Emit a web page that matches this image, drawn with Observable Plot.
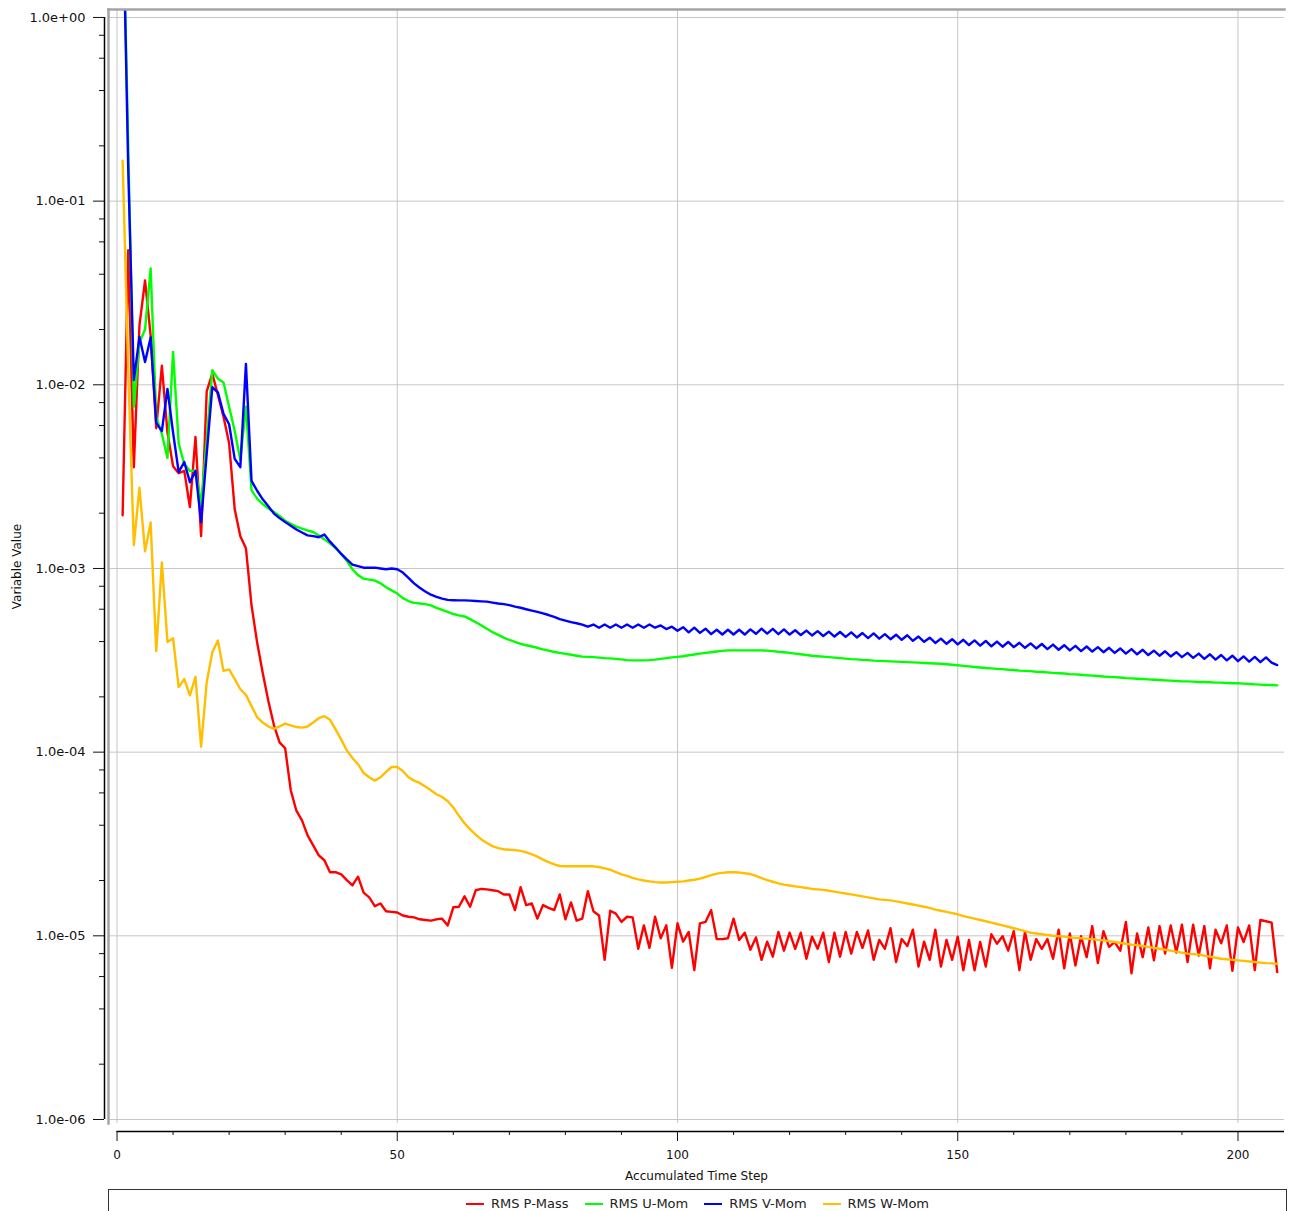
<!DOCTYPE html>
<html><head><meta charset="utf-8">
<script src="https://cdn.jsdelivr.net/npm/d3@7"></script>
<script src="https://cdn.jsdelivr.net/npm/@observablehq/plot@0.6"></script>
<style>
html,body{margin:0;padding:0;background:#fff;}
#wrap{position:relative;width:1293px;height:1211px;overflow:hidden;font-family:"DejaVu Sans",sans-serif;}
#legend{position:absolute;left:108px;top:1189px;width:1179px;height:40px;border:1px solid #333;box-sizing:border-box;}
.items{display:flex;justify-content:center;gap:16px;margin-top:6px;font-size:13px;color:#222;line-height:15px;}
.item{display:flex;align-items:center;gap:7px;}
.sw{width:18px;height:2px;display:inline-block;}
</style></head><body><div id="wrap"><div id="chart"></div><div id="legend"><div class="items" id="items"></div></div></div>
<script>
// Accumulated time steps 1..207
const steps = d3.range(1, 208);

const seriesNames = ["RMS P-Mass", "RMS U-Mom", "RMS V-Mom", "RMS W-Mom"];
const seriesColors = ["#ff0000", "#00ff00", "#0000ff", "#ffbf00"];

const pMass = [
1.95e-3,0.054,3.56e-3,0.021,0.037,0.0185,5.8e-3,0.0127,5.5e-3,3.6e-3,
3.3e-3,3.4e-3,2.16e-3,5.2e-3,1.5e-3,9.2e-3,0.0115,8.8e-3,6.7e-3,4.8e-3,
2.1e-3,1.5e-3,1.29e-3,6.3e-4,3.95e-4,2.7e-4,1.9e-4,1.4e-4,1.13e-4,1.05e-4,
6.2e-5,4.8e-5,4.25e-5,3.52e-5,3.11e-5,2.74e-5,2.58e-5,2.22e-5,2.22e-5,2.16e-5,
2.01e-5,1.88e-5,2.1e-5,1.72e-5,1.62e-5,1.45e-5,1.5e-5,1.36e-5,1.35e-5,1.34e-5,
1.29e-5,1.27e-5,1.26e-5,1.23e-5,1.22e-5,1.21e-5,1.23e-5,1.24e-5,1.14e-5,1.43e-5,
1.44e-5,1.64e-5,1.44e-5,1.77e-5,1.8e-5,1.79e-5,1.77e-5,1.75e-5,1.68e-5,1.68e-5,
1.38e-5,1.84e-5,1.47e-5,1.5e-5,1.24e-5,1.47e-5,1.42e-5,1.38e-5,1.68e-5,1.23e-5,
1.52e-5,1.21e-5,1.24e-5,1.75e-5,1.36e-5,1.29e-5,7.4e-6,1.37e-5,1.32e-5,1.19e-5,
1.27e-5,1.26e-5,8.5e-6,1.14e-5,8.6e-6,1.27e-5,9.7e-6,1.14e-5,6.7e-6,1.17e-5,
9.3e-6,1.05e-5,6.5e-6,1.17e-5,1.19e-5,1.38e-5,9.6e-6,9.6e-6,9.7e-6,1.24e-5,
9.5e-6,1.04e-5,8.4e-6,9.8e-6,7.4e-6,9.3e-6,7.7e-6,1.05e-5,8.3e-6,1.04e-5,
8.5e-6,1.04e-5,7.5e-6,9.9e-6,8.5e-6,1.04e-5,7.2e-6,1.04e-5,7.7e-6,1.05e-5,
8.0e-6,1.05e-5,8.6e-6,1.07e-5,7.4e-6,9.5e-6,8.5e-6,1.1e-5,7.2e-6,9.6e-6,
8.8e-6,1.08e-5,6.8e-6,9.3e-6,7.4e-6,1.08e-5,6.8e-6,9.5e-6,7.4e-6,9.9e-6,
6.5e-6,9.5e-6,6.5e-6,9.25e-6,6.8e-6,1.02e-5,9.06e-6,9.95e-6,8.3e-6,1.06e-5,
6.5e-6,1.05e-5,7.4e-6,9.6e-6,8.5e-6,9.6e-6,7.5e-6,1.08e-5,6.65e-6,1.03e-5,
6.9e-6,9.95e-6,7.65e-6,1.13e-5,7.1e-6,1.06e-5,8.7e-6,9.25e-6,8.3e-6,1.19e-5,
6.25e-6,1.03e-5,7.65e-6,1.11e-5,7.35e-6,1.13e-5,8.0e-6,1.14e-5,8.1e-6,1.15e-5,
7.2e-6,1.15e-5,7.8e-6,1.13e-5,6.65e-6,1.08e-5,9.1e-6,1.14e-5,6.45e-6,1.11e-5,
9.25e-6,1.14e-5,6.5e-6,1.22e-5,1.2e-5,1.18e-5,6.35e-6
];

const uMom = [
5,0.2,7.6e-3,0.017,0.02,0.043,6.7e-3,5.4e-3,4.0e-3,0.0151,
4.8e-3,3.7e-3,3.4e-3,3.4e-3,2.25e-3,5.0e-3,0.012,0.0108,0.0103,7.6e-3,
5.6e-3,3.9e-3,7.6e-3,2.66e-3,2.4e-3,2.24e-3,2.12e-3,2.03e-3,1.93e-3,1.82e-3,
1.75e-3,1.69e-3,1.65e-3,1.61e-3,1.58e-3,1.51e-3,1.44e-3,1.37e-3,1.29e-3,1.2e-3,
1.1e-3,9.9e-4,9.2e-4,8.8e-4,8.7e-4,8.6e-4,8.3e-4,7.9e-4,7.6e-4,7.3e-4,
6.9e-4,6.65e-4,6.5e-4,6.45e-4,6.4e-4,6.3e-4,6.1e-4,5.95e-4,5.8e-4,5.65e-4,
5.55e-4,5.48e-4,5.3e-4,5.1e-4,4.9e-4,4.7e-4,4.5e-4,4.35e-4,4.2e-4,4.08e-4,
3.98e-4,3.89e-4,3.82e-4,3.76e-4,3.7e-4,3.63e-4,3.57e-4,3.51e-4,3.47e-4,3.43e-4,
3.39e-4,3.35e-4,3.31e-4,3.3e-4,3.29e-4,3.27e-4,3.25e-4,3.24e-4,3.22e-4,3.2e-4,
3.17e-4,3.16e-4,3.16e-4,3.16e-4,3.17e-4,3.19e-4,3.22e-4,3.25e-4,3.28e-4,3.3e-4,
3.33e-4,3.37e-4,3.4e-4,3.44e-4,3.47e-4,3.5e-4,3.53e-4,3.56e-4,3.58e-4,3.58e-4,
3.58e-4,3.58e-4,3.58e-4,3.58e-4,3.58e-4,3.57e-4,3.55e-4,3.52e-4,3.5e-4,3.47e-4,
3.44e-4,3.41e-4,3.38e-4,3.35e-4,3.33e-4,3.31e-4,3.29e-4,3.27e-4,3.25e-4,3.23e-4,
3.21e-4,3.2e-4,3.18e-4,3.17e-4,3.15e-4,3.14e-4,3.13e-4,3.12e-4,3.11e-4,3.1e-4,
3.09e-4,3.08e-4,3.07e-4,3.06e-4,3.05e-4,3.04e-4,3.03e-4,3.01e-4,2.99e-4,2.97e-4,
2.95e-4,2.93e-4,2.91e-4,2.89e-4,2.87e-4,2.86e-4,2.84e-4,2.83e-4,2.81e-4,2.8e-4,
2.78e-4,2.77e-4,2.76e-4,2.74e-4,2.73e-4,2.72e-4,2.7e-4,2.69e-4,2.68e-4,2.66e-4,
2.65e-4,2.64e-4,2.62e-4,2.61e-4,2.6e-4,2.58e-4,2.57e-4,2.56e-4,2.55e-4,2.53e-4,
2.52e-4,2.51e-4,2.5e-4,2.49e-4,2.48e-4,2.47e-4,2.46e-4,2.45e-4,2.44e-4,2.43e-4,
2.43e-4,2.42e-4,2.41e-4,2.41e-4,2.4e-4,2.39e-4,2.39e-4,2.38e-4,2.37e-4,2.37e-4,
2.36e-4,2.35e-4,2.34e-4,2.33e-4,2.32e-4,2.32e-4,2.31e-4
];

const vMom = [
5,0.15,0.0106,0.0182,0.0133,0.0181,6.2e-3,5.6e-3,9.5e-3,5.5e-3,
3.35e-3,3.8e-3,2.95e-3,3.4e-3,1.79e-3,4.2e-3,9.7e-3,9.1e-3,6.95e-3,6.1e-3,
3.95e-3,3.56e-3,0.013,3.0e-3,2.65e-3,2.38e-3,2.18e-3,1.99e-3,1.88e-3,1.79e-3,
1.71e-3,1.63e-3,1.57e-3,1.515e-3,1.5e-3,1.48e-3,1.53e-3,1.4e-3,1.3e-3,1.2e-3,
1.12e-3,1.05e-3,1.03e-3,1.01e-3,1.01e-3,1.01e-3,1.0e-3,9.9e-4,1.0e-3,9.9e-4,
9.5e-4,8.9e-4,8.3e-4,7.85e-4,7.5e-4,7.2e-4,7.0e-4,6.85e-4,6.75e-4,6.72e-4,
6.7e-4,6.7e-4,6.68e-4,6.65e-4,6.62e-4,6.6e-4,6.52e-4,6.45e-4,6.4e-4,6.32e-4,
6.2e-4,6.11e-4,6.0e-4,5.9e-4,5.8e-4,5.7e-4,5.58e-4,5.45e-4,5.3e-4,5.2e-4,
5.1e-4,5.03e-4,4.95e-4,4.82e-4,4.95e-4,4.76e-4,4.95e-4,4.76e-4,4.95e-4,4.76e-4,
4.95e-4,4.76e-4,4.95e-4,4.76e-4,4.95e-4,4.76e-4,4.9e-4,4.68e-4,4.82e-4,4.58e-4,
4.79e-4,4.49e-4,4.76e-4,4.46e-4,4.7e-4,4.39e-4,4.64e-4,4.37e-4,4.64e-4,4.37e-4,
4.64e-4,4.37e-4,4.66e-4,4.41e-4,4.7e-4,4.42e-4,4.69e-4,4.39e-4,4.66e-4,4.37e-4,
4.61e-4,4.34e-4,4.59e-4,4.32e-4,4.56e-4,4.29e-4,4.53e-4,4.26e-4,4.51e-4,4.24e-4,
4.49e-4,4.21e-4,4.45e-4,4.18e-4,4.43e-4,4.15e-4,4.39e-4,4.12e-4,4.36e-4,4.09e-4,
4.33e-4,4.04e-4,4.26e-4,3.99e-4,4.2e-4,3.93e-4,4.15e-4,3.89e-4,4.12e-4,3.86e-4,
4.09e-4,3.83e-4,4.06e-4,3.8e-4,4.03e-4,3.77e-4,4.0e-4,3.75e-4,3.98e-4,3.73e-4,
3.94e-4,3.7e-4,3.91e-4,3.67e-4,3.88e-4,3.64e-4,3.85e-4,3.61e-4,3.82e-4,3.58e-4,
3.79e-4,3.55e-4,3.76e-4,3.53e-4,3.73e-4,3.5e-4,3.7e-4,3.47e-4,3.67e-4,3.44e-4,
3.64e-4,3.41e-4,3.61e-4,3.38e-4,3.57e-4,3.35e-4,3.54e-4,3.32e-4,3.5e-4,3.29e-4,
3.47e-4,3.26e-4,3.44e-4,3.22e-4,3.41e-4,3.19e-4,3.38e-4,3.16e-4,3.35e-4,3.13e-4,
3.32e-4,3.11e-4,3.3e-4,3.09e-4,3.28e-4,3.07e-4,2.98e-4
];

const wMom = [
0.166,0.012,1.34e-3,2.75e-3,1.24e-3,1.78e-3,3.55e-4,1.08e-3,3.98e-4,4.17e-4,
2.26e-4,2.5e-4,2.04e-4,2.57e-4,1.07e-4,2.4e-4,3.5e-4,4.05e-4,2.77e-4,2.82e-4,
2.5e-4,2.2e-4,2.05e-4,1.78e-4,1.55e-4,1.45e-4,1.38e-4,1.34e-4,1.38e-4,1.43e-4,
1.4e-4,1.37e-4,1.36e-4,1.38e-4,1.45e-4,1.53e-4,1.57e-4,1.5e-4,1.33e-4,1.17e-4,
1.02e-4,9.3e-5,8.6e-5,7.7e-5,7.3e-5,7.0e-5,7.3e-5,7.8e-5,8.3e-5,8.3e-5,
7.9e-5,7.3e-5,7.0e-5,6.8e-5,6.5e-5,6.2e-5,5.9e-5,5.7e-5,5.4e-5,5.0e-5,
4.5e-5,4.1e-5,3.8e-5,3.55e-5,3.35e-5,3.2e-5,3.08e-5,3.0e-5,2.96e-5,2.94e-5,
2.93e-5,2.9e-5,2.85e-5,2.78e-5,2.7e-5,2.6e-5,2.52e-5,2.45e-5,2.4e-5,2.39e-5,
2.39e-5,2.39e-5,2.39e-5,2.39e-5,2.39e-5,2.37e-5,2.33e-5,2.29e-5,2.22e-5,2.16e-5,
2.12e-5,2.07e-5,2.03e-5,2.0e-5,1.98e-5,1.96e-5,1.95e-5,1.95e-5,1.96e-5,1.97e-5,
1.98e-5,2.0e-5,2.02e-5,2.05e-5,2.09e-5,2.14e-5,2.18e-5,2.2e-5,2.22e-5,2.22e-5,
2.21e-5,2.19e-5,2.17e-5,2.12e-5,2.06e-5,2.01e-5,1.97e-5,1.93e-5,1.9e-5,1.88e-5,
1.86e-5,1.84e-5,1.82e-5,1.8e-5,1.79e-5,1.78e-5,1.76e-5,1.74e-5,1.72e-5,1.7e-5,
1.68e-5,1.66e-5,1.64e-5,1.62e-5,1.6e-5,1.58e-5,1.57e-5,1.56e-5,1.54e-5,1.52e-5,
1.5e-5,1.48e-5,1.46e-5,1.44e-5,1.42e-5,1.39e-5,1.37e-5,1.35e-5,1.33e-5,1.31e-5,
1.28e-5,1.26e-5,1.24e-5,1.22e-5,1.2e-5,1.18e-5,1.16e-5,1.14e-5,1.12e-5,1.1e-5,
1.08e-5,1.06e-5,1.04e-5,1.03e-5,1.02e-5,1.01e-5,1.0e-5,9.95e-6,9.9e-6,9.8e-6,
9.75e-6,9.7e-6,9.65e-6,9.6e-6,9.5e-6,9.45e-6,9.35e-6,9.25e-6,9.15e-6,9.05e-6,
8.95e-6,8.9e-6,8.8e-6,8.7e-6,8.6e-6,8.5e-6,8.4e-6,8.3e-6,8.2e-6,8.1e-6,
8.0e-6,7.95e-6,7.9e-6,7.8e-6,7.7e-6,7.6e-6,7.5e-6,7.45e-6,7.4e-6,7.35e-6,
7.3e-6,7.25e-6,7.2e-6,7.15e-6,7.1e-6,7.08e-6,7.05e-6
];

const yMajorTicks = [1, 1e-1, 1e-2, 1e-3, 1e-4, 1e-5, 1e-6];
const yMinorTicks = [0.8,0.6,0.4,0.2, 0.08,0.06,0.04,0.02, 8e-3,6e-3,4e-3,2e-3,
  8e-4,6e-4,4e-4,2e-4, 8e-5,6e-5,4e-5,2e-5, 8e-6,6e-6,4e-6,2e-6];
const xMajorTicks = [0, 50, 100, 150, 200];
const xMinorTicks = [10,20,30,40,60,70,80,90,110,120,130,140,160,170,180,190];

const xDomain = [-1.52, 208.3];
const yDomain = [9.51e-7, 1.105];

const seriesValues = [pMass, uMom, vMom, wMom];
const series = seriesNames.map((name, k) => ({name, color: seriesColors[k], values: seriesValues[k]}));

const fmtExp = d => {
  const e = Math.round(Math.log10(d));
  return "1.0e" + (e < 0 ? "-" : "+") + String(Math.abs(e)).padStart(2, "0");
};

const lineMarks = series.map(s => Plot.lineY(s.values, {
  x: (d, i) => steps[i], y: d => d, stroke: s.color, strokeWidth: 2.4, clip: true
}));

const chart = Plot.plot({
  width: 1293, height: 1189,
  marginLeft: 108, marginRight: 9, marginTop: 9, marginBottom: 66,
  style: {fontFamily: "'DejaVu Sans', sans-serif", background: "white", color: "#111", overflow: "visible"},
  x: {domain: xDomain},
  y: {type: "log", domain: yDomain},
  marks: [
    Plot.gridY(yMajorTicks, {stroke: "#c6c6c6", strokeOpacity: 1}),
    Plot.gridX(xMajorTicks, {stroke: "#c6c6c6", strokeOpacity: 1}),
    ...lineMarks,
    Plot.frame({anchor: "top", stroke: "#a4a4a4", strokeWidth: 2.5}),
    Plot.frame({anchor: "left", stroke: "#a4a4a4", strokeWidth: 2.5}),
    Plot.ruleX([xDomain[0]], {y1: 1e-6, y2: 1, dx: -4, stroke: "#000", strokeWidth: 1.5}),
    Plot.axisY(yMajorTicks, {anchor: "left", tickSize: 11, tickPadding: 8, dx: -4, tickFormat: fmtExp, fontSize: 13, label: null}),
    Plot.axisY(yMinorTicks, {anchor: "left", tickSize: 5, dx: -4, tickFormat: () => "", label: null}),
    Plot.ruleY([yDomain[0]], {x1: 0, x2: 208.3, dy: 8, stroke: "#000", strokeWidth: 1.5}),
    Plot.axisX(xMajorTicks, {anchor: "bottom", tickSize: 10, tickPadding: 9, dy: 8, fontSize: 12, tickFormat: d => String(d), label: null}),
    Plot.axisX(xMinorTicks, {anchor: "bottom", tickSize: 4, dy: 8, tickFormat: () => "", label: null}),
    Plot.text(["Accumulated Time Step"], {text: d => d, frameAnchor: "bottom", dy: 56, fontSize: 12}),
    Plot.text(["Variable Value"], {text: d => d, frameAnchor: "left", dx: -91, rotate: -90, textAnchor: "middle", fontSize: 12})
  ]
});
document.getElementById("chart").appendChild(chart);

const items = document.getElementById("items");
series.forEach(s => {
  const it = document.createElement("div");
  it.className = "item";
  const sw = document.createElement("span");
  sw.className = "sw";
  sw.style.background = s.color;
  const tx = document.createElement("span");
  tx.textContent = s.name;
  it.appendChild(sw); it.appendChild(tx);
  items.appendChild(it);
});
</script>
</body></html>
